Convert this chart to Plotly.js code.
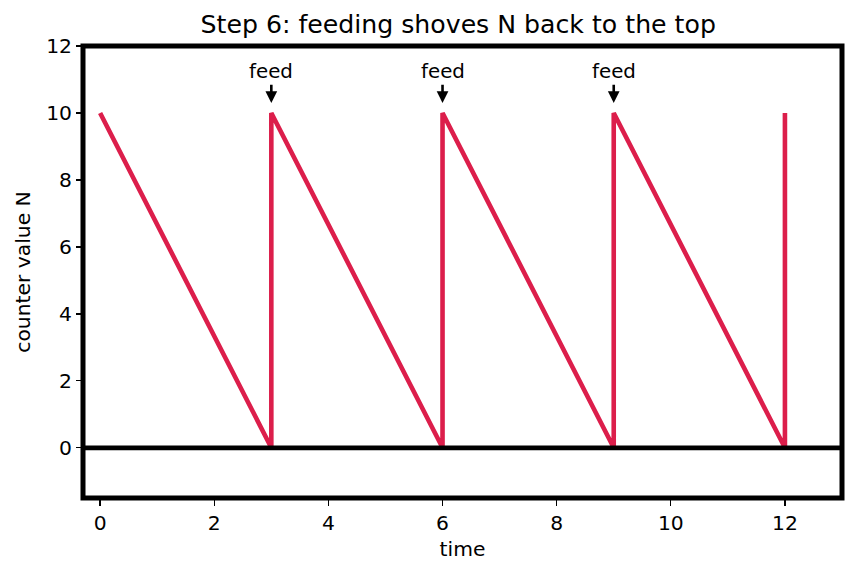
<!DOCTYPE html>
<html>
<head>
<meta charset="utf-8">
<script src="https://cdn.plot.ly/plotly-3.0.1.min.js"></script>
<style>
  html, body { margin: 0; padding: 0; background: #ffffff; }
  #chart { width: 856px; height: 573px; }
</style>
</head>
<body>
<div id="chart"></div>
<script>
// Counter value over time: it drains to zero, then each feed resets it to 10.
const timePoints = [0, 3, 3, 6, 6, 9, 9, 12, 12];
const counterValues = [10, 0, 10, 0, 10, 0, 10, 0, 10];

// Feed events, marked with labelled arrows.
const feedTimes = [3, 6, 9];
const feedLabel = 'feed';
const feedArrowTip = 10.3;
const feedTextLevel = 11.23;

const xTicks = [0, 2, 4, 6, 8, 10, 12];
const yTicks = [0, 2, 4, 6, 8, 10, 12];

const FONT = 'DejaVu Sans, sans-serif';
const LABEL_SIZE = 20.3;

const trace = {
  x: timePoints,
  y: counterValues,
  type: 'scatter',
  mode: 'lines',
  line: { color: '#dc1e4b', width: 4.6 },
  hoverinfo: 'skip'
};

const annotations = feedTimes.map(t => ({
  x: t,
  y: feedArrowTip,
  xref: 'x',
  yref: 'y',
  ax: t,
  ay: feedTextLevel,
  axref: 'x',
  ayref: 'y',
  text: feedLabel,
  showarrow: true,
  arrowhead: 2,
  arrowsize: 0.9,
  arrowwidth: 2.6,
  arrowcolor: '#000000',
  font: { family: FONT, size: 19.8, color: '#000000' }
}));

const layout = {
  width: 856,
  height: 573,
  margin: { l: 83, r: 14, t: 46, b: 75 },
  paper_bgcolor: '#ffffff',
  plot_bgcolor: '#ffffff',
  showlegend: false,
  font: { family: FONT, color: '#000000' },
  title: {
    text: 'Step 6: feeding shoves N back to the top',
    font: { family: FONT, size: 25.2, color: '#000000' },
    x: 0.5353,
    xanchor: 'center',
    y: 0.957,
    yanchor: 'middle'
  },
  xaxis: {
    range: [-0.3, 13],
    tickvals: xTicks,
    ticktext: xTicks.map(String),
    ticks: 'outside',
    ticklen: 7,
    tickwidth: 1.3,
    tickcolor: '#000000',
    showgrid: false,
    zeroline: false,
    showline: false,
    tickfont: { family: FONT, size: LABEL_SIZE, color: '#000000' },
    title: { text: 'time', font: { family: FONT, size: LABEL_SIZE, color: '#000000' }, standoff: 7 }
  },
  yaxis: {
    range: [-1.5, 12],
    tickvals: yTicks,
    ticktext: yTicks.map(String),
    ticks: 'outside',
    ticklen: 6,
    tickwidth: 1.3,
    tickcolor: '#000000',
    showgrid: false,
    zeroline: false,
    showline: false,
    tickfont: { family: FONT, size: LABEL_SIZE, color: '#000000' },
    title: { text: 'counter value N', font: { family: FONT, size: LABEL_SIZE, color: '#000000' }, standoff: 10 }
  },
  shapes: [
    // baseline at zero
    {
      type: 'line', xref: 'paper', yref: 'y',
      x0: 0, x1: 1, y0: 0, y1: 0,
      line: { color: '#000000', width: 4.7 },
      layer: 'above'
    },
    // heavy frame round the plotting area
    {
      type: 'rect', xref: 'paper', yref: 'paper',
      x0: 0, x1: 1, y0: 0, y1: 1,
      line: { color: '#000000', width: 5 },
      fillcolor: 'rgba(0,0,0,0)',
      layer: 'above'
    }
  ],
  annotations: annotations
};

Plotly.newPlot('chart', [trace], layout, { displayModeBar: false, staticPlot: true });
</script>
</body>
</html>
